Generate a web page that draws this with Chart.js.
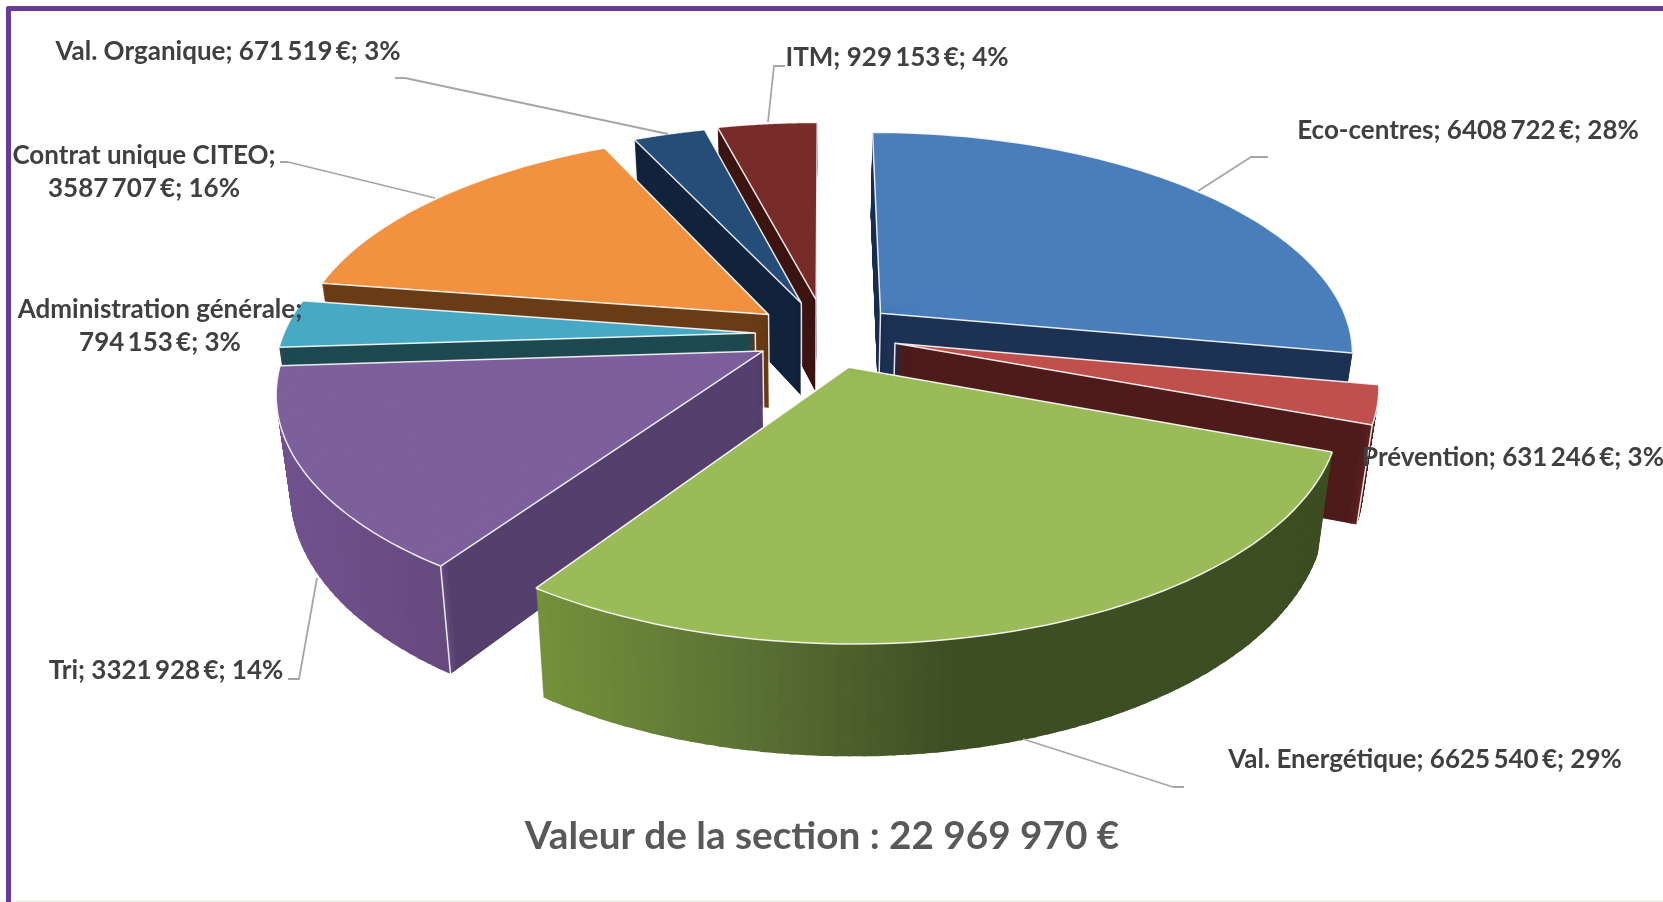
<!doctype html>
<html><head><meta charset="utf-8">
<style>
html,body{margin:0;padding:0;background:#fff;overflow:hidden}
#wrap{position:relative;width:1663px;height:902px;background:#fff}
#frame{position:absolute;left:6px;top:6px;right:-10px;bottom:-10px;border:5px solid #6a3a9a;border-radius:2px;box-sizing:content-box}
#band{position:absolute;left:0;right:0;bottom:0;height:2px;background:#f3f2ef}
canvas{position:absolute;left:0;top:0}
</style>
<script src="https://cdn.jsdelivr.net/npm/chart.js@4/dist/chart.umd.min.js"></script>
</head><body>
<div id="wrap"><div id="band"></div><div id="frame"></div><canvas id="c" width="1663" height="902"></canvas></div>
<script>
// ---- data ----
const categories=["Eco-centres","Prévention","Val. Energétique","Tri","Administration générale","Contrat unique CITEO","Val. Organique","ITM"];
const values=[6408722,631246,6625540,3321928,794153,3587707,671519,929153];
const totalLabel="Valeur de la section : 22 969 970 €";
// ---- styles ----
const topColors=["#4a7ebb","#c0504d","#9bbb59","#7d5f9c","#48a9c5","#f29240","#264c78","#772c2a"];
const cutColors=["#1e3354","#4f1c1c","#3e4f24","#55406e","#1f4a52","#6b3d17","#11233a","#3d1512"];
const rimColors=[
 [[0,"#1e3354"],[1,"#1e3354"]],
 [[0,"#5a2020"],[1,"#5a2020"]],
 [[536,"#76923c"],[750,"#5b7135"],[950,"#3e4f24"],[1340,"#3e4f24"]],
 [[280,"#735490"],[450,"#664a7e"]],
 [[0,"#1f4a52"],[1,"#1f4a52"]],
 [[0,"#6b3d17"],[1,"#6b3d17"]],
 [[0,"#11233a"],[1,"#11233a"]],
 [[0,"#3d1512"],[1,"#3d1512"]]];
const paintOrder=[0,7,6,5,4,1,3,2];
const startEdgeSlices=[3], endEdgeSlices=[1];
// ---- 3-D view of the pie: plane homography, explode distance, extrusion ----
const rotationDeg=6.025;
const view=[483.665,88.1001,825.735,-16.7558,-160.888,334.401,0.0177922,0.167];
const explode=[0.1537,0.1512,0.1544,0.1516,0.1497,0.1537,0.1560,0.1639];
const depth={vx:805,kx:0.027,ky:0.058,dy:75};
// ---- annotation layout: [centre x, line y...] and leader polylines ----
const labelFont="bold 26px Lato";
const labelColor="#404040";
const labelPos=[
 {x:1468,y:[131]},{x:1513,y:[458]},{x:1425,y:[760]},{x:166,y:[671]},
 {x:160,y:[310,343]},{x:144,y:[156,189]},{x:228,y:[52]},{x:897,y:[58]}];
const labelBreak=[false,false,false,false,true,true,false,false];
const leaders=[
 [[1198,191],[1251,157],[1268,157]],
 [],
 [[1023,739],[1173,787],[1184,787]],
 [[317,578],[299,679],[288,679]],
 [],
 [[435,198],[288,162],[280,162]],
 [[668,134],[405,78],[395,78]],
 [[768,122],[774,66],[785,66]]];

const total=values.reduce((a,b)=>a+b,0);
const fmtValue=v=>String(v).replace(/(\d{3})$/,"\u2009$1");
const labelText=i=>{
  const pct=Math.round(values[i]/total*100)+"%";
  const a=categories[i]+";", b=fmtValue(values[i])+"\u2009€; "+pct;
  return labelBreak[i]?[a,b]:[a+" "+b];
};
const project=(X,Y)=>{const h=view,w=h[6]*X+h[7]*Y+1;return [(h[0]*X+h[1]*Y+h[2])/w,(h[3]*X+h[4]*Y+h[5])/w];};
const sink=(p,t)=>[p[0]+t*depth.kx*(depth.vx-p[0]),p[1]+t*(depth.dy+depth.ky*p[1])];
const hexRgb=h=>[1,3,5].map(k=>parseInt(h.substr(k,2),16));
function rimColor(i,x){
  const g=rimColors[i];
  if(x<=g[0][0])return g[0][1];
  for(let k=1;k<g.length;k++){
    if(x<=g[k][0]){
      const f=(x-g[k-1][0])/(g[k][0]-g[k-1][0]),a=hexRgb(g[k-1][1]),b=hexRgb(g[k][1]);
      return `rgb(${a.map((v,j)=>Math.round(v+f*(b[j]-v))).join(",")})`;
    }
  }
  return g[g.length-1][1];
}
const pie3d={
  id:"pie3d",
  beforeDatasetDraw(){return false;},
  afterDatasetsDraw(chart){
    const ctx=chart.ctx,meta=chart.getDatasetMeta(0);
    const DEG=Math.PI/180;
    for(const i of paintOrder){
      const el=meta.data[i];
      const saved={s:el.startAngle,e:el.endAngle,c:el.circumference,ir:el.innerRadius,or:el.outerRadius,o:el.options};
      const R=saved.or,cx=el.x,cy=el.y;
      const mid=(saved.s+saved.e)/2;
      const ox=explode[i]*Math.cos(mid),oy=-explode[i]*Math.sin(mid);
      const onRim=a=>project(ox+Math.cos(a),oy-Math.sin(a));
      const apex=project(ox,oy);
      const piece=(a,b,t,color,inner,outer)=>{
        const A=sink(apex,t),P=sink(onRim(a),t),Q=sink(onRim(b),t);
        const ux=R*Math.cos(a),uy=R*Math.sin(a),vx=R*Math.cos(b),vy=R*Math.sin(b);
        const det=ux*vy-uy*vx;
        const px=P[0]-A[0],py=P[1]-A[1],qx=Q[0]-A[0],qy=Q[1]-A[1];
        const ma=(px*vy-qx*uy)/det,mc=(qx*ux-px*vx)/det;
        const mb=(py*vy-qy*uy)/det,md=(qy*ux-py*vx)/det;
        ctx.setTransform(ma,mb,mc,md,A[0]-ma*cx-mc*cy,A[1]-mb*cx-md*cy);
        el.startAngle=a;el.endAngle=b;el.circumference=b-a;el.innerRadius=inner*R;el.outerRadius=outer*R;
        el.options={backgroundColor:color,borderColor:color,borderWidth:0,offset:0,spacing:0,borderRadius:0,circular:true,borderAlign:"center"};
        el.draw(ctx);
      };
      const sweep=(stepDeg,fn)=>{
        const n=Math.max(1,Math.ceil((saved.e-saved.s)/(stepDeg*DEG)));
        for(let k=0;k<n;k++){
          const a=saved.s+(saved.e-saved.s)*k/n;
          let b=saved.s+(saved.e-saved.s)*(k+1)/n;
          if(k<n-1)b+=0.4*DEG;
          fn(a,b,(a+b)/2);
        }
      };
      // extruded body, bottom layer first; finer steps for the flat cut walls
      const layers=220;
      for(let l=layers;l>=1;l--){
        const t=l/layers;
        sweep(6,(a,b)=>piece(a,b,t,cutColors[i],0,0.99));
        if(l%2===0)sweep(1.5,(a,b,m)=>piece(a,b,t,rimColor(i,sink(onRim(m),0.5)[0]),0.98,1));
      }
      // edges running down the solid, then the top face over them
      ctx.setTransform(1,0,0,1,0,0);
      const S=onRim(saved.s),E=onRim(saved.e);
      const downs=[apex];
      if(startEdgeSlices.includes(i))downs.push(S);
      if(endEdgeSlices.includes(i))downs.push(E);
      ctx.lineWidth=1.5;ctx.strokeStyle="rgba(255,255,255,.88)";ctx.lineJoin="round";
      ctx.beginPath();
      for(const p of downs){const q=sink(p,1);ctx.moveTo(p[0],p[1]);ctx.lineTo(q[0],q[1]);}
      ctx.stroke();
      sweep(12,(a,b)=>piece(a,b,0,topColors[i],0,0.995));
      sweep(1.5,(a,b)=>piece(a,b,0,topColors[i],0,1));
      ctx.setTransform(1,0,0,1,0,0);
      ctx.beginPath();
      ctx.moveTo(S[0],S[1]);ctx.lineTo(apex[0],apex[1]);ctx.lineTo(E[0],E[1]);
      const n=60;ctx.moveTo(S[0],S[1]);
      for(let k=1;k<=n;k++){const p=onRim(saved.s+(saved.e-saved.s)*k/n);ctx.lineTo(p[0],p[1]);}
      ctx.stroke();
      el.startAngle=saved.s;el.endAngle=saved.e;el.circumference=saved.c;el.innerRadius=saved.ir;el.outerRadius=saved.or;el.options=saved.o;
    }
    ctx.setTransform(1,0,0,1,0,0);
    // leader lines
    ctx.strokeStyle="#a6a6a6";ctx.lineWidth=1.8;ctx.lineJoin="round";
    leaders.forEach(l=>{if(!l.length)return;ctx.beginPath();l.forEach((p,k)=>k?ctx.lineTo(p[0],p[1]):ctx.moveTo(p[0],p[1]));ctx.stroke();});
    // labels
    ctx.textAlign="center";ctx.textBaseline="middle";ctx.fillStyle=labelColor;ctx.font=labelFont;
    categories.forEach((_,i)=>labelText(i).forEach((s,k)=>ctx.fillText(s,labelPos[i].x,labelPos[i].y[k])));
    ctx.font="bold 38.7px Lato";ctx.fillStyle="#595959";
    ctx.fillText(totalLabel,822,837);
  }
};
new Chart(document.getElementById("c"),{
  type:"pie",
  data:{labels:categories,datasets:[{data:values,backgroundColor:topColors,borderWidth:0}]},
  options:{responsive:false,animation:false,rotation:rotationDeg,
    plugins:{legend:{display:false},tooltip:{enabled:false}}},
  plugins:[pie3d]
});
</script>
</body></html>
